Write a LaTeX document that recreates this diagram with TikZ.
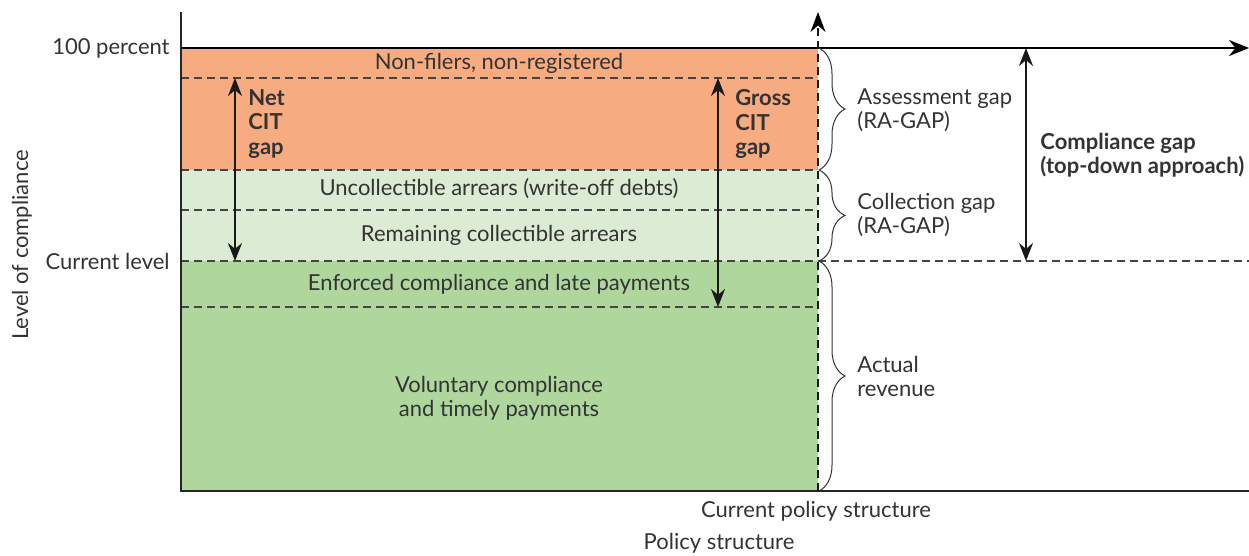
\documentclass[tikz,border=0pt]{standalone}
\usepackage{fontspec}
\setmainfont{Lato}
\usetikzlibrary{arrows.meta,decorations.pathreplacing}
\definecolor{orng}{HTML}{F7AB80}
\definecolor{lgrn}{HTML}{DCEBD4}
\definecolor{dgrn}{HTML}{AED69D}
\definecolor{txt}{HTML}{333333}
\definecolor{dsh}{HTML}{444444}
\begin{document}
\begin{tikzpicture}[x=0.5pt,y=-0.5pt,
  lbl/.style={font=\fontsize{11}{12}\selectfont, text=txt, inner sep=0pt, align=center},
  llbl/.style={lbl, align=left},
  blbl/.style={font=\fontsize{11}{12.2}\selectfont\bfseries, text=txt, inner sep=0pt, align=left},
  dashln/.style={draw=dsh, dash pattern=on 4pt off 2.5pt, line width=0.6pt},
  dbl/.style={{Stealth[length=9pt,width=7pt]}-{Stealth[length=9pt,width=7pt]}, line width=0.9pt, draw=black!90},
  brc/.style={decorate, decoration={brace, amplitude=13pt}, line width=0.5pt, draw=txt},
  axis/.style={draw=black!85, line width=0.8pt}]
\useasboundingbox (0,0) rectangle (1249,556);
% regions
\fill[orng] (181,48) rectangle (818,170);
\fill[lgrn] (181,170) rectangle (818,261);
\fill[dgrn] (181,261) rectangle (818,491);
% coordinates
\coordinate (ytop) at (181,12);
\coordinate (orig) at (181,491);
\coordinate (xend) at (1249,491);
\coordinate (tl) at (181,48);
\coordinate (tr) at (1249,48);
\coordinate (vb) at (818,491);
\coordinate (vt) at (818,12);
\coordinate (d1l) at (181,78);   \coordinate (d1r) at (818,78);
\coordinate (d2l) at (181,170);  \coordinate (d2r) at (818,170);
\coordinate (d3l) at (181,210);  \coordinate (d3r) at (818,210);
\coordinate (d4l) at (181,261);  \coordinate (d4r) at (1249,261);
\coordinate (d5l) at (181,307);  \coordinate (d5r) at (818,307);
% dashed lines
\draw[dashln] (d1l) -- (d1r);
\draw[dashln] (d2l) -- (d2r);
\draw[dashln] (d3l) -- (d3r);
\draw[dashln] (d4l) -- (d4r);
\draw[dashln] (d5l) -- (d5r);
% axes
\draw[axis] (ytop) -- (orig) -- (xend);
\draw[draw=black, line width=1.2pt, -{Stealth[length=10pt,width=8pt]}] (tl) -- (tr);
\draw[draw=black!90, dash pattern=on 4pt off 2.5pt, line width=0.8pt, -{Stealth[length=10pt,width=7.5pt,color=black]}] (vb) -- (vt);
% gap arrows
\coordinate (n1) at (235,78);  \coordinate (n2) at (235,261);
\coordinate (g1) at (718,78);  \coordinate (g2) at (718,307);
\coordinate (c1) at (1026,48); \coordinate (c2) at (1026,261);
\draw[dbl] (n1) -- (n2);
\draw[dbl] (g1) -- (g2);
\draw[dbl] (c1) -- (c2);
% braces
\coordinate (b1) at (819,48);
\coordinate (b2) at (819,170);
\coordinate (b3) at (819,261);
\coordinate (b4) at (819,491);
\draw[brc] (b1) -- (b2);
\draw[brc] (b2) -- (b3);
\draw[brc] (b3) -- (b4);
% region labels
\node[lbl] (nf) at (499,63) {Non-filers, non-registered};
\node[lbl] (ua) at (499,189) {Uncollectible arrears (write-off debts)};
\node[lbl] (rc) at (499,235) {Remaining collectible arrears};
\node[lbl] (ec) at (499,284) {Enforced compliance and late payments};
\node[lbl] (vc) at (499,398) {Voluntary compliance\\and timely payments};
% gap labels
\node[blbl, anchor=west] (net) at (248,124) {Net\\CIT\\gap};
\node[blbl, anchor=west] (gross) at (735,124) {Gross\\CIT\\gap};
\node[blbl, anchor=west] (comp) at (1040,155) {Compliance gap\\(top-down approach)};
\node[llbl, anchor=west] (ag) at (857,110) {Assessment gap\\(RA-GAP)};
\node[llbl, anchor=west] (cg) at (857,215) {Collection gap\\(RA-GAP)};
\node[llbl, anchor=west] (ar) at (857,376) {Actual\\revenue};
% axis labels
\node[lbl, anchor=east] (hp) at (170,48) {100 percent};
\node[lbl, anchor=east] (cl) at (170,261) {Current level};
\node[lbl, rotate=90] (loc) at (22,245) {Level of compliance};
\node[lbl] (cps) at (816,511) {Current policy structure};
\node[lbl] (ps) at (719,543) {Policy structure};
\end{tikzpicture}
\end{document}
